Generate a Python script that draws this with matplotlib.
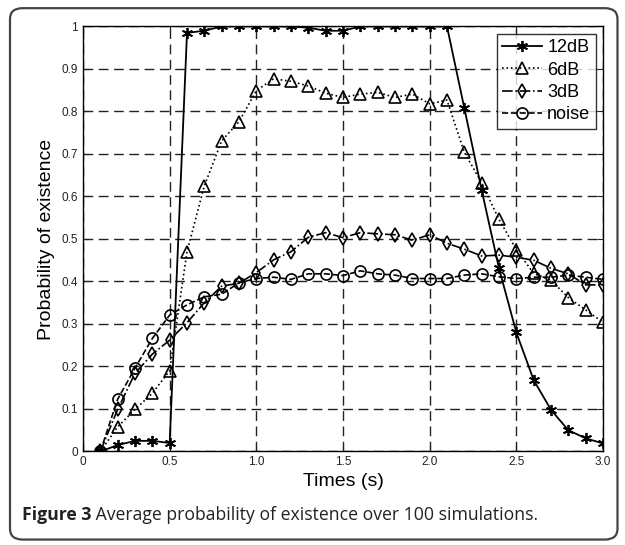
import matplotlib.pyplot as plt
import matplotlib as mpl
from matplotlib.patches import FancyBboxPatch
import numpy as np

mpl.rcParams['font.family'] = ['Liberation Sans', 'DejaVu Sans']
mpl.rcParams['xtick.direction'] = 'in'
mpl.rcParams['ytick.direction'] = 'in'
mpl.rcParams['xtick.top'] = True
mpl.rcParams['ytick.right'] = True

# time axis (s)
times = [0.1, 0.2, 0.3, 0.4, 0.5, 0.6, 0.7, 0.8, 0.9, 1.0,
         1.1, 1.2, 1.3, 1.4, 1.5, 1.6, 1.7, 1.8, 1.9, 2.0,
         2.1, 2.2, 2.3, 2.4, 2.5, 2.6, 2.7, 2.8, 2.9, 3.0]

p_12dB = [0.0, 0.015, 0.025, 0.025, 0.02, 0.985, 0.99, 1.0, 1.0, 1.0,
          1.0, 1.0, 0.997, 0.99, 0.99, 1.0, 1.0, 1.0, 1.0, 1.0,
          1.0, 0.808, 0.615, 0.431, 0.28, 0.168, 0.098, 0.05, 0.031, 0.019]

p_6dB = [0.0, 0.058, 0.099, 0.137, 0.19, 0.47, 0.625, 0.731, 0.776, 0.849,
         0.877, 0.871, 0.86, 0.843, 0.833, 0.841, 0.845, 0.833, 0.841, 0.818,
         0.827, 0.704, 0.632, 0.546, 0.475, 0.419, 0.403, 0.362, 0.333, 0.304]

p_3dB = [0.0, 0.099, 0.184, 0.229, 0.262, 0.303, 0.35, 0.389, 0.396, 0.421,
         0.451, 0.47, 0.504, 0.515, 0.503, 0.515, 0.512, 0.51, 0.497, 0.51,
         0.49, 0.476, 0.46, 0.462, 0.457, 0.45, 0.431, 0.418, 0.392, 0.392]

p_noise = [0.0, 0.123, 0.196, 0.266, 0.321, 0.345, 0.364, 0.37, 0.397, 0.407,
           0.41, 0.405, 0.418, 0.418, 0.414, 0.425, 0.418, 0.415, 0.407, 0.407,
           0.407, 0.415, 0.418, 0.411, 0.407, 0.41, 0.41, 0.415, 0.41, 0.405]

labels = ['12dB', '6dB', '3dB', 'noise']
xticks = [0, 0.5, 1.0, 1.5, 2.0, 2.5, 3.0]
xticklabels = ['0', '0.5', '1.0', '1.5', '2.0', '2.5', '3.0']
yticks = [0, 0.1, 0.2, 0.3, 0.4, 0.5, 0.6, 0.7, 0.8, 0.9, 1.0]
yticklabels = ['0', '0.1', '0.2', '0.3', '0.4', '0.5', '0.6', '0.7', '0.8', '0.9', '1']

fig = plt.figure(figsize=(6.25, 5.45), dpi=100)
ax = fig.add_axes([0.1328, 0.1716, 0.832, 0.7798])

# rounded frame around the whole figure
frame = FancyBboxPatch((0.016, 0.01), 0.972, 0.975, boxstyle='round,pad=0,rounding_size=0.02',
                       transform=fig.transFigure, fill=False, edgecolor='#444444', linewidth=1.6)
fig.patches.append(frame)

kw = dict(color='k', markerfacecolor='none', markeredgecolor='k', linewidth=1.2, markeredgewidth=1.2)
ax.plot(times, p_12dB, '-', marker=(6, 2, 0), markersize=8, color='k', linewidth=1.3,
        markeredgewidth=1.3, label=labels[0])
ax.plot(times, p_6dB, ':', marker='^', markersize=8, label=labels[1], **kw)
ax.plot(times, p_3dB, '-.', marker='d', markersize=7, label=labels[2], **kw)
ax.plot(times, p_noise, '--', marker='o', markersize=8, label=labels[3], **kw)

ax.set_xlim(0, 3.0)
ax.set_ylim(0, 1)
ax.set_xticks(xticks)
ax.set_xticklabels(xticklabels)
ax.set_yticks(yticks)
ax.set_yticklabels(yticklabels)
ax.tick_params(labelsize=8.5, colors='#222222', length=4)
ax.grid(True, linestyle=(0, (7, 4)), color='#222222', linewidth=1.0)

for spine in ax.spines.values():
    spine.set_linewidth(1.0)

ax.set_xlabel('Times (s)', fontsize=14, labelpad=3)
ax.set_ylabel('Probability of existence', fontsize=14, labelpad=5)

leg = ax.legend(loc='upper right', fontsize=13, frameon=True, fancybox=False,
                edgecolor='k', handlelength=2.2, handletextpad=0.3,
                borderpad=0.3, labelspacing=0.3, borderaxespad=0.4)
leg.get_frame().set_linewidth(1.0)

t1 = fig.text(0.035, 0.045, 'Figure 3', fontsize=12.7, fontweight='bold', color='#222222',
              family=['Open Sans', 'DejaVu Sans'])
fig.canvas.draw()
ax.annotate(' Average probability of existence over 100 simulations.', xy=(1, 0),
            xycoords=t1, va='bottom', ha='left', fontsize=12.7, color='#222222',
            family=['Open Sans', 'DejaVu Sans'])

plt.savefig('out.png', dpi=100)
